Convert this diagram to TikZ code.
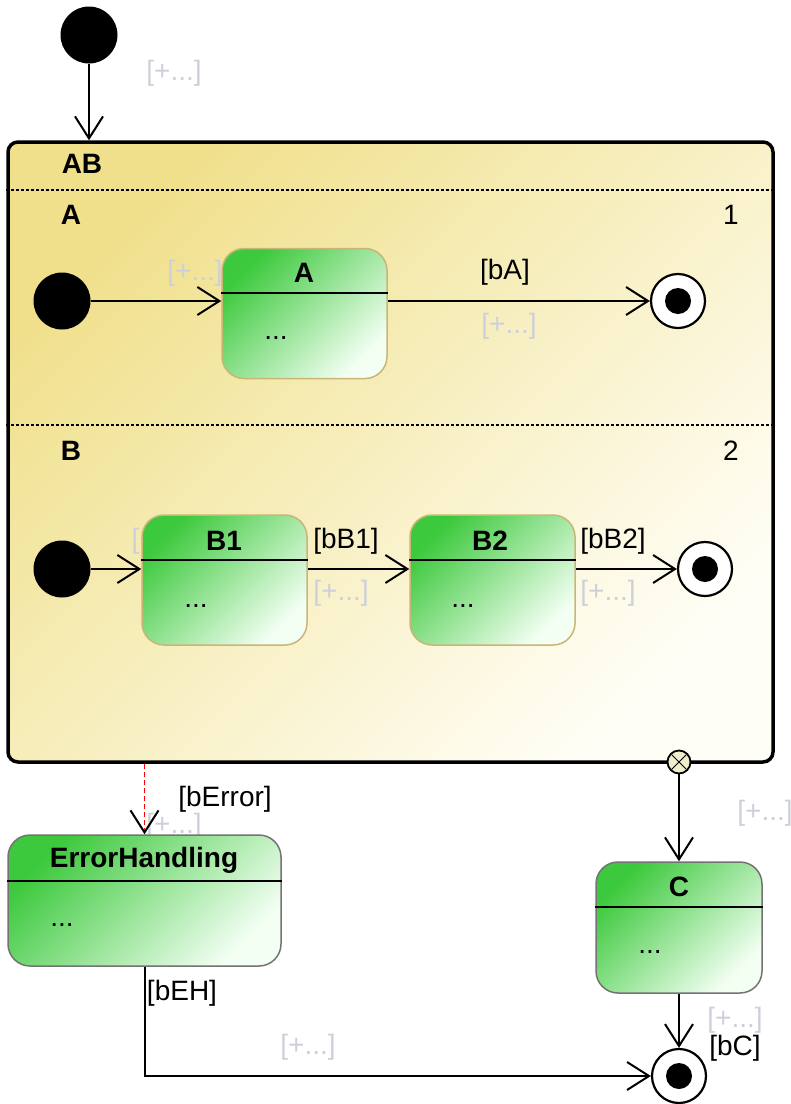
\documentclass[tikz,border=0pt]{standalone}
\usepackage{fontspec}
\setmainfont{Liberation Sans}
\usetikzlibrary{arrows.meta,positioning}

\definecolor{regionyellow}{HTML}{F0E08C}
\definecolor{regionwhite}{HTML}{FFFEF6}
\definecolor{stategreen}{HTML}{3DC93D}
\definecolor{statewhite}{HTML}{F4FFF4}
\definecolor{stateborder}{HTML}{C9B676}
\definecolor{hintgray}{HTML}{CDD0DA}
\definecolor{exitfill}{HTML}{EEEECC}

\tikzset{
  region/.style={draw, line width=3.5pt, rounded corners=10pt,
    top color=regionyellow, bottom color=regionwhite, shading angle=45},
  simplestate/.style={draw=stateborder, line width=1.5pt, rounded corners=22pt,
    top color=stategreen, bottom color=statewhite, shading angle=45,
    minimum width=165pt, minimum height=130pt},
  outerstate/.style={simplestate, draw=black!55},
  titletext/.style={font=\bfseries\fontsize{28}{33}\selectfont},
  sepline/.style={line width=2.4pt},
  divider/.style={line width=1.2pt, dash pattern=on 3pt off 2pt},
  init/.style={circle, fill=black, minimum size=57pt, inner sep=0pt},
  final/.style={circle, draw, line width=2.2pt, fill=white, minimum size=54pt, inner sep=0pt},
  exitpt/.style={circle, draw, line width=1.8pt, fill=exitfill, minimum size=23pt, inner sep=0pt},
  trans/.style={line width=2pt, -{Straight Barb[length=22pt,width=28pt]}},
  errtrans/.style={red, line width=1.6pt, dash pattern=on 5pt off 3pt,
    -{Straight Barb[length=22pt,width=28pt,color=black,line width=2pt]}},
  hint/.style={text=hintgray}
}

\begin{document}
\begin{tikzpicture}[x=1pt,y=-1pt,font=\fontsize{28}{33}\selectfont]
\useasboundingbox (0,0) rectangle (791,1104);

% composite state with two regions
\node[region, minimum width=765pt, minimum height=620pt] (AB) at (390.5,452) {};
\draw[divider] (AB.west |- 0,190) -- (AB.east |- 0,190);
\draw[divider] (AB.west |- 0,425) -- (AB.east |- 0,425);
\node[titletext] (ABtitle) at (82,164) {AB};
\node[titletext] (regAtitle) at (71,215) {A};
\node (regAnum) at (731,215) {1};
\node[titletext] (regBtitle) at (71,451) {B};
\node (regBnum) at (731,451) {2};

% top level start
\node[init] (init0) at (89,35) {};
\node[hint] (h0) at (174,73) {[+...]};
\draw[trans] (init0) -- (init0 |- AB.north);

% region A
\node[init] (initA) at (62,301) {};
\node[hint] (hA0) at (195,273) {[+...]};
\node[simplestate] (A) at (304.5,313.5) {};
\draw[sepline] (A.west |- 0,293) -- (A.east |- 0,293);
\node[titletext] (Atitle) at (304,273) {A};
\node (Adots) at (276,338) {...};
\node[final] (finA) at (678,301) {};
\fill (finA) circle (13);
\draw[trans] (initA) -- (initA -| A.west);
\draw[trans] (finA -| A.east) -- (finA);
\node (gA) at (505,272) {[bA]};
\node[hint] (hA1) at (509,326) {[+...]};

% region B
\node[init] (initB) at (62,569) {};
\node[hint, anchor=west] (hB0) at (128,541) {[+...]};
\node[simplestate] (B1) at (224.5,580) {};
\draw[sepline] (B1.west |- 0,560) -- (B1.east |- 0,560);
\node[titletext] (B1title) at (224,541) {B1};
\node (B1dots) at (196,606) {...};
\node[simplestate] (B2) at (492.5,580) {};
\draw[sepline] (B2.west |- 0,560) -- (B2.east |- 0,560);
\node[titletext] (B2title) at (490,541) {B2};
\node (B2dots) at (463,606) {...};
\node[final] (finB) at (705,569) {};
\fill (finB) circle (13);
\draw[trans] (initB) -- (initB -| B1.west);
\draw[trans] (initB -| B1.east) -- (initB -| B2.west);
\draw[trans] (initB -| B2.east) -- (finB);
\node (gB1) at (346,541) {[bB1]};
\node[hint] (hB1) at (341,593) {[+...]};
\node (gB2) at (613,541) {[bB2]};
\node[hint] (hB2) at (608,593) {[+...]};

% exit point
\node[exitpt] (ex) at (679,762) {};
\draw[line width=1pt, shorten <=2pt, shorten >=2pt] (ex.north east) -- (ex.south west);
\draw[line width=1pt, shorten <=2pt, shorten >=2pt] (ex.north west) -- (ex.south east);

% error handling
\node (gErr) at (225,799) {[bError]};
\node[hint] (hErr) at (174,826) {[+...]};
\node[outerstate, minimum width=273pt, minimum height=131pt] (EH) at (144.5,900.5) {};
\draw[sepline] (EH.west |- 0,881) -- (EH.east |- 0,881);
\node[titletext] (EHtitle) at (144,860) {ErrorHandling};
\node (EHdots) at (62,925) {...};
\draw[errtrans] (EH.north |- AB.south) -- (EH.north);

% state C
\node[hint] (hEx) at (765,813) {[+...]};
\node[outerstate, minimum width=166pt, minimum height=131pt] (C) at (679,927.5) {};
\draw[sepline] (C.west |- 0,907) -- (C.east |- 0,907);
\node[titletext] (Ctitle) at (679,887) {C};
\node (Cdots) at (650,952) {...};
\draw[trans] (ex) -- (C.north);

% final state
\node[final] (finC) at (679,1076) {};
\fill (finC) circle (13);
\draw[trans] (C.south) -- (finC);
\draw[trans] (EH.south) |- (finC);
\node (gEH) at (182,993) {[bEH]};
\node[hint] (hEH) at (308,1047) {[+...]};
\node[hint] (hC) at (735,1020) {[+...]};
\node (gC) at (735,1048) {[bC]};
\end{tikzpicture}
\end{document}
